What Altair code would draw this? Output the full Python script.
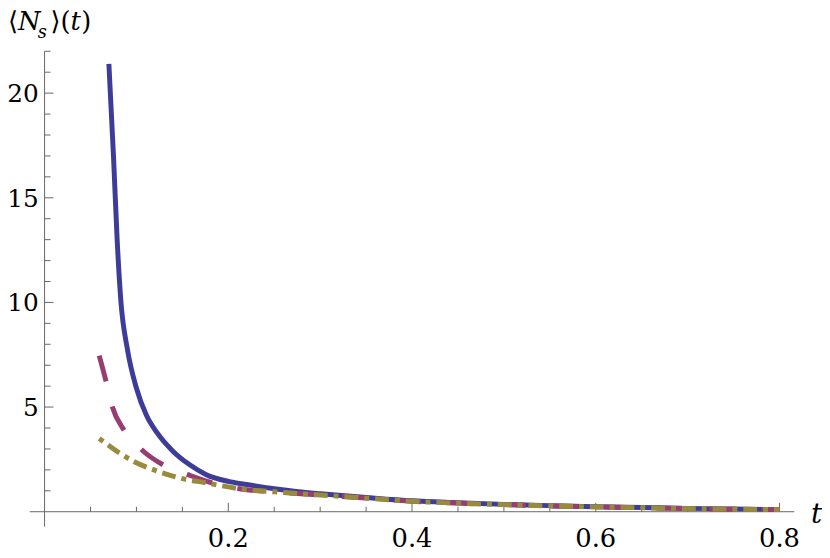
import altair as alt
import pandas as pd

# ---- data ----
t_blue = [0.070, 0.075, 0.079, 0.083, 0.090, 0.100, 0.111, 0.122, 0.140, 0.158, 0.176, 0.200,
          0.220, 0.250, 0.276, 0.300, 0.350, 0.400, 0.450, 0.500, 0.550, 0.600, 0.650, 0.700,
          0.750, 0.800]
n_blue = [21.4, 17.0, 13.0, 10.1, 7.8, 5.9, 4.6, 3.8, 2.88, 2.24, 1.77, 1.45,
          1.30, 1.10, 0.96, 0.86, 0.68, 0.52, 0.43, 0.35, 0.29, 0.24, 0.20, 0.16,
          0.13, 0.10]

t_purple = [0.0595, 0.0667, 0.0738, 0.0864, 0.106, 0.129, 0.156, 0.176, 0.200, 0.212, 0.250,
            0.300, 0.350, 0.400, 0.450, 0.500, 0.550, 0.600, 0.650, 0.700, 0.750, 0.800]
n_purple = [7.46, 6.27, 5.0, 3.9, 2.95, 2.24, 1.77, 1.46, 1.20, 1.10, 0.95,
            0.80, 0.65, 0.50, 0.41, 0.34, 0.28, 0.23, 0.19, 0.15, 0.12, 0.10]

t_olive = [0.0595, 0.079, 0.097, 0.119, 0.147, 0.176, 0.212, 0.250, 0.300, 0.350, 0.400,
           0.450, 0.500, 0.550, 0.600, 0.650, 0.700, 0.750, 0.800]
n_olive = [3.5, 2.88, 2.4, 2.0, 1.61, 1.38, 1.10, 0.95, 0.80, 0.65, 0.50,
           0.41, 0.34, 0.28, 0.23, 0.19, 0.15, 0.12, 0.10]

x_major = [0.2, 0.4, 0.6, 0.8]
x_major_labels = ["0.2", "0.4", "0.6", "0.8"]
x_minor = [0.05, 0.1, 0.15, 0.25, 0.3, 0.35, 0.45, 0.5, 0.55, 0.65, 0.7, 0.75]
y_major = [5, 10, 15, 20]
y_major_labels = ["5", "10", "15", "20"]
y_minor = [1, 2, 3, 4, 6, 7, 8, 9, 11, 12, 13, 14, 16, 17, 18, 19, 21, 22]

x_domain = [-0.0161, 0.8161]
y_domain = [-0.711, 22.0]

FONT = "DejaVu Serif"
AX = "#666666"
C_BLUE = "#3d3d99"
C_PURPLE = "#993d71"
C_OLIVE = "#998b3d"

xs = alt.Scale(domain=x_domain, nice=False, zero=False)
ys = alt.Scale(domain=y_domain, nice=False, zero=False)

one = pd.DataFrame({"a": [0]})


def line_layer(ts, ns, color, dash=None, dash_offset=None):
    df = pd.DataFrame({"t": ts, "n": ns})
    kw = dict(color=color, strokeWidth=5, interpolate="monotone", strokeCap="butt")
    if dash is not None:
        kw["strokeDash"] = dash
    if dash_offset is not None:
        kw["strokeDashOffset"] = dash_offset
    return alt.Chart(df).mark_line(**kw).encode(
        x=alt.X("t:Q", scale=xs, axis=None),
        y=alt.Y("n:Q", scale=ys, axis=None),
    )


# axis lines
x_axis_line = alt.Chart(one).mark_rule(color=AX, strokeWidth=1).encode(
    x=alt.XDatum(x_domain[0], scale=xs), x2=alt.X2Datum(x_domain[1]), y=alt.YDatum(0, scale=ys)
)
y_axis_line = alt.Chart(one).mark_rule(color=AX, strokeWidth=1).encode(
    y=alt.YDatum(y_domain[0], scale=ys), y2=alt.Y2Datum(y_domain[1]), x=alt.XDatum(0, scale=xs)
)

# ticks (inward, Mathematica style)
x_major_ticks = alt.Chart(pd.DataFrame({"v": x_major})).mark_rule(
    color=AX, strokeWidth=1, y2Offset=-9
).encode(x=alt.X("v:Q", scale=xs, axis=None), y=alt.YDatum(0, scale=ys), y2=alt.Y2Datum(0))
x_minor_ticks = alt.Chart(pd.DataFrame({"v": x_minor})).mark_rule(
    color=AX, strokeWidth=1, y2Offset=-5
).encode(x=alt.X("v:Q", scale=xs, axis=None), y=alt.YDatum(0, scale=ys), y2=alt.Y2Datum(0))
y_major_ticks = alt.Chart(pd.DataFrame({"v": y_major})).mark_rule(
    color=AX, strokeWidth=1, x2Offset=9
).encode(y=alt.Y("v:Q", scale=ys, axis=None), x=alt.XDatum(0, scale=xs), x2=alt.X2Datum(0))
y_minor_ticks = alt.Chart(pd.DataFrame({"v": y_minor})).mark_rule(
    color=AX, strokeWidth=1, x2Offset=6
).encode(y=alt.Y("v:Q", scale=ys, axis=None), x=alt.XDatum(0, scale=xs), x2=alt.X2Datum(0))

# tick labels
x_labels = alt.Chart(pd.DataFrame({"v": x_major, "lab": x_major_labels})).mark_text(
    font=FONT, fontSize=26, color="black", align="center", baseline="alphabetic", dy=36
).encode(x=alt.X("v:Q", scale=xs, axis=None), y=alt.YDatum(0, scale=ys), text="lab:N")
y_labels = alt.Chart(pd.DataFrame({"v": y_major, "lab": y_major_labels})).mark_text(
    font=FONT, fontSize=25, color="black", align="right", baseline="alphabetic", dx=-6, dy=9
).encode(y=alt.Y("v:Q", scale=ys, axis=None), x=alt.XDatum(0, scale=xs), text="lab:N")


def piece(txt, px, py, size=26, italic=False):
    kw = dict(font=FONT, fontSize=size, color="black", align="left", baseline="alphabetic")
    if italic:
        kw["fontStyle"] = "italic"
    return alt.Chart(one).mark_text(**kw).encode(
        x=alt.value(px), y=alt.value(py), text=alt.value(txt)
    )


title_parts = [
    piece("\u27e8", -22, -21),
    piece("N", -12, -21, italic=True),
    piece("s", 8, -13, size=18, italic=True),
    piece("\u27e9", 21, -21),
    piece("(", 31, -21),
    piece("t", 41, -21, italic=True),
    piece(")", 52, -21),
]

t_label = alt.Chart(one).mark_text(
    font=FONT, fontSize=28, fontStyle="italic", color="black", align="left",
    baseline="alphabetic", dy=11
).encode(x=alt.value(789), y=alt.YDatum(0, scale=ys), text=alt.value("t"))

chart = alt.layer(
    line_layer(t_blue, n_blue, C_BLUE),
    x_axis_line,
    y_axis_line,
    x_major_ticks,
    x_minor_ticks,
    y_major_ticks,
    y_minor_ticks,
    x_labels,
    y_labels,
    t_label,
    *title_parts,
    line_layer(t_purple, n_purple, C_PURPLE, dash=[27, 26]),
    line_layer(t_olive, n_olive, C_OLIVE, dash=[14, 6, 5, 6], dash_offset=20),
).properties(
    width=772,
    height=480,
    autosize=alt.AutoSizeParams(type="none"),
    padding={"left": 22, "top": 41, "right": 28, "bottom": 29},
).configure_view(stroke=None).configure_axis(disable=True)

chart.save("out.html", embed_options={"renderer": "svg", "actions": False})
